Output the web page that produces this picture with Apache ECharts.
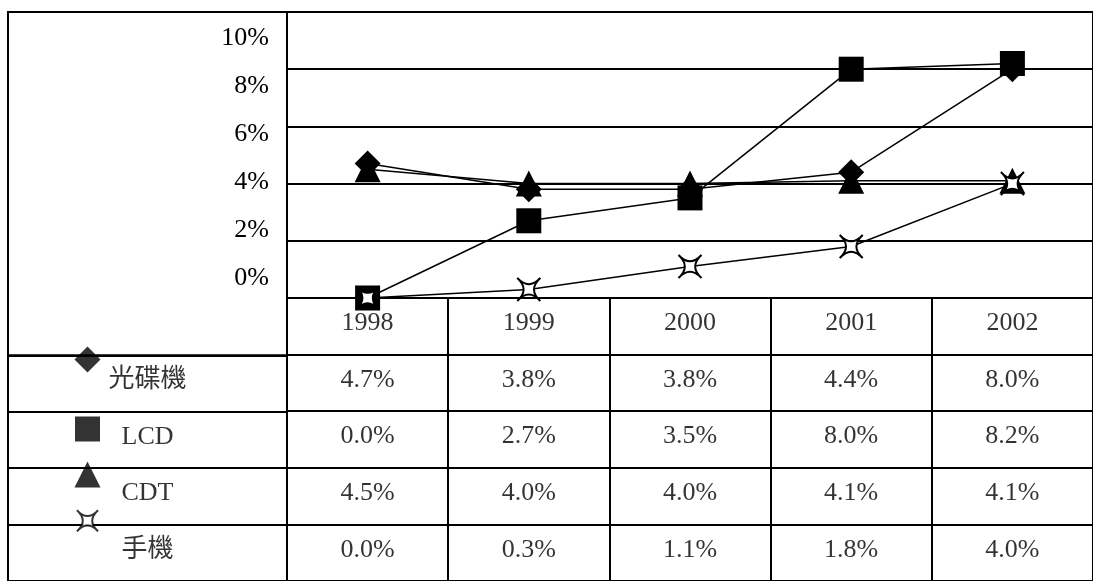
<!DOCTYPE html>
<html>
<head>
<meta charset="utf-8">
<script src="https://cdn.jsdelivr.net/npm/echarts@6/dist/echarts.min.js"></script>
<style>
  html, body { margin: 0; padding: 0; background: #fff; }
  #chart { width: 1093px; height: 581px; }
</style>
</head>
<body>
<div id="chart"></div>
<script>
// Annual growth rate by product, 1998-2002 (percent)
const years = ['1998', '1999', '2000', '2001', '2002'];
const seriesNames = ['光碟機', 'LCD', 'CDT', '手機'];
const discPlayer = [4.7, 3.8, 3.8, 4.4, 8.0];
const lcd = [0.0, 2.7, 3.5, 8.0, 8.2];
const cdt = [4.5, 4.0, 4.0, 4.1, 4.1];
const handset = [0.0, 0.3, 1.1, 1.8, 4.0];
const percentTicks = [0, 2, 4, 6, 8, 10];

const seriesValues = [discPlayer, lcd, cdt, handset];

// Marker look per product; keyOffset places the key glyph in the row-name cell
const STAR = 'path://M0,0 Q10,11 20,0 Q9,10 20,20 Q10,9 0,20 Q11,10 0,0 Z';
const markStyle = [
  { symbol: 'diamond', size: 26, keySize: 26, fill: '#000', keyOffset: [-60, -24] },
  { symbol: 'rect', size: 25, keySize: 25, fill: '#000', keyOffset: [-60, -11] },
  { symbol: 'triangle', size: 26, keySize: 26, fill: '#000', keyOffset: [-60, -22] },
  { symbol: STAR, size: 23, keySize: 21, fill: '#fff', keyOffset: [-60, -32] }
];

const FONT = '"Liberation Serif", "Times New Roman", "Noto Sans CJK TC", serif';
const textBase = { fontFamily: FONT, fontSize: 26, color: '#000' };
const frame = { show: true, borderColor: '#000', borderWidth: 2, backgroundColor: 'transparent' };
const blackSplit = { show: true, interval: 0, lineStyle: { color: '#000', width: 2 } };
const bare = {
  axisLine: { show: false }, axisTick: { show: false },
  axisLabel: { show: false }, splitLine: { show: false }
};
const cellLabel = Object.assign({ show: true, position: 'inside', offset: [0, -3], formatter: p => p.name }, textBase);

// table cells: header row of years, then one row per product
const rowKeys = ['header'].concat(seriesNames);
const cellData = [];
years.forEach((y, j) => cellData.push({ value: [j, 0], name: y }));
seriesValues.forEach((vals, r) => {
  vals.forEach((v, j) => cellData.push({ value: [j, r + 1], name: v.toFixed(1) + '%' }));
});

const markerItemStyle = i => ({
  color: markStyle[i].fill,
  borderColor: '#000',
  borderWidth: markStyle[i].fill === '#fff' ? 2 : 0
});

const lineSeries = seriesNames.map((name, i) => ({
  name: name,
  type: 'line',
  xAxisIndex: 0, yAxisIndex: 0,
  data: seriesValues[i],
  symbol: markStyle[i].symbol,
  symbolSize: markStyle[i].size,
  showSymbol: true,
  clip: false,
  silent: true,
  lineStyle: { color: '#000', width: 1.5 },
  itemStyle: markerItemStyle(i),
  z: 3 + i
}));

const keyData = seriesNames.map((name, i) => ({
  value: [0, i],
  symbol: markStyle[i].symbol,
  symbolSize: markStyle[i].keySize,
  symbolOffset: markStyle[i].keyOffset,
  itemStyle: markerItemStyle(i)
}));

const option = {
  animation: false,
  backgroundColor: '#fff',
  grid: [
    Object.assign({ left: 287, top: 12, width: 840, height: 286 }, frame),     // plot area
    { left: 277, top: 38, width: 10, height: 240, show: false },               // percent labels
    Object.assign({ left: 287, top: 298, width: 840, height: 287 }, frame),    // data table
    Object.assign({ left: 8, top: 355.4, width: 279, height: 229.6 }, frame),  // row names
    Object.assign({ left: 8, top: 12, width: 279, height: 343.4 }, frame)      // upper-left cell
  ],
  xAxis: [
    Object.assign({ gridIndex: 0, type: 'category', data: years }, bare),
    { gridIndex: 1, type: 'value', show: false },
    Object.assign({ gridIndex: 2, type: 'category', data: years }, bare, { splitLine: blackSplit }),
    Object.assign({ gridIndex: 3, type: 'category', data: ['label'] }, bare),
    { gridIndex: 4, type: 'value', show: false }
  ],
  yAxis: [
    Object.assign({ gridIndex: 0, type: 'value',
      min: percentTicks[0], max: percentTicks[percentTicks.length - 1],
      interval: percentTicks[1] - percentTicks[0] }, bare, { splitLine: blackSplit }),
    {
      gridIndex: 1, type: 'value',
      min: percentTicks[0], max: percentTicks[percentTicks.length - 1],
      interval: percentTicks[1] - percentTicks[0],
      axisLine: { show: false }, axisTick: { show: false }, splitLine: { show: false },
      axisLabel: Object.assign({ show: true, margin: 8, formatter: '{value}%' }, textBase)
    },
    Object.assign({ gridIndex: 2, type: 'category', data: rowKeys, inverse: true }, bare, { splitLine: blackSplit }),
    Object.assign({ gridIndex: 3, type: 'category', data: seriesNames, inverse: true }, bare, { splitLine: blackSplit }),
    { gridIndex: 4, type: 'value', show: false }
  ],
  series: lineSeries.concat([
    {
      type: 'scatter', xAxisIndex: 2, yAxisIndex: 2, silent: true,
      symbolSize: 1, itemStyle: { color: 'rgba(0,0,0,0)' },
      label: cellLabel,
      data: cellData
    },
    {
      type: 'scatter', xAxisIndex: 3, yAxisIndex: 3, silent: true,
      symbolSize: 1, itemStyle: { color: 'rgba(0,0,0,0)' },
      label: cellLabel,
      data: seriesNames.map((n, i) => ({ value: [0, i], name: n }))
    },
    {
      type: 'scatter', xAxisIndex: 3, yAxisIndex: 3, silent: true,
      data: keyData
    }
  ])
};

const chart = echarts.init(document.getElementById('chart'), null, { renderer: 'canvas' });
chart.setOption(option);
</script>
</body>
</html>
